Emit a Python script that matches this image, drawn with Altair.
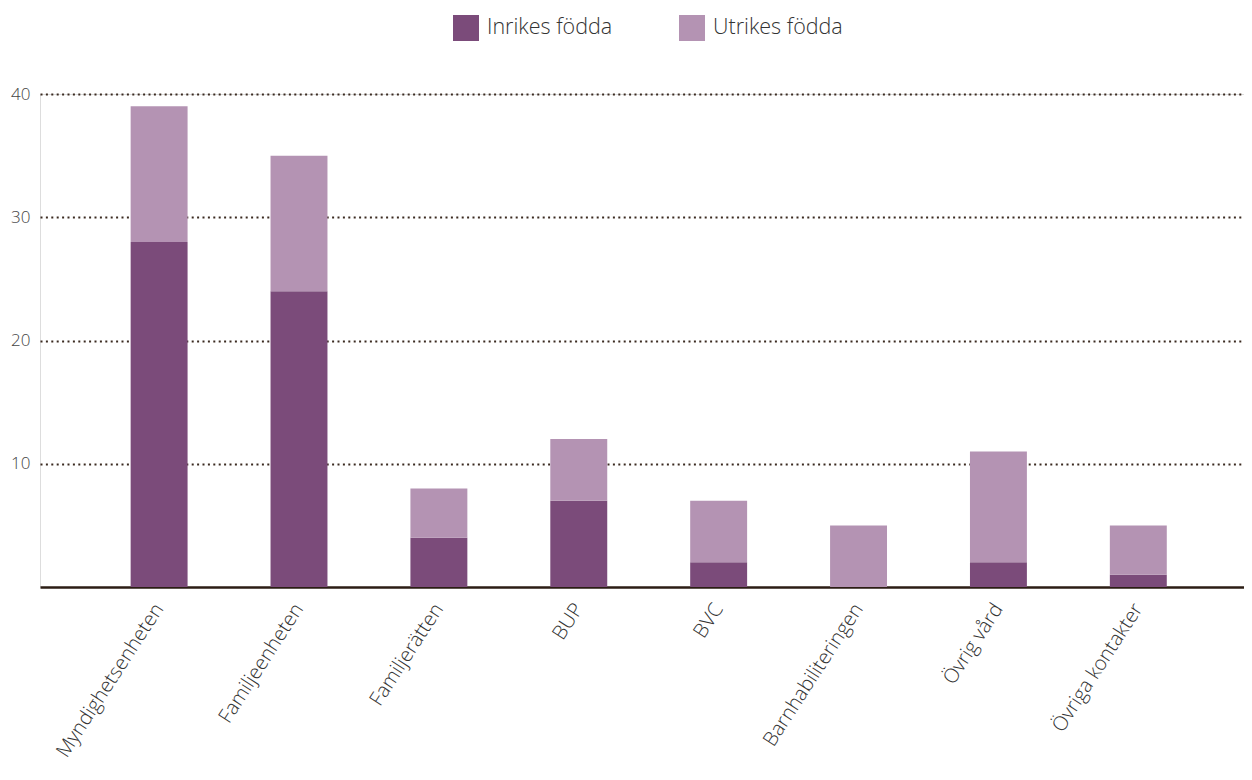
import altair as alt
import pandas as pd

categories = ["Myndighetsenheten", "Familjeenheten", "Familjerätten", "BUP", "BVC",
              "Barnhabiliteringen", "Övrig vård", "Övriga kontakter"]
inrikes = [28, 24, 4, 7, 2, 0, 2, 1]
utrikes = [11, 11, 4, 5, 5, 5, 9, 4]
series = ["Inrikes födda", "Utrikes födda"]
colors = ["#7B4B7A", "#B493B3"]

rows = []
for c, a, b in zip(categories, inrikes, utrikes):
    rows.append({"kategori": c, "grupp": series[0], "antal": a, "ord": 0})
    rows.append({"kategori": c, "grupp": series[1], "antal": b, "ord": 1})
df = pd.DataFrame(rows)

FONT = "Open Sans"

chart = alt.Chart(df).mark_bar().encode(
    x=alt.X("kategori:N", sort=categories,
            scale=alt.Scale(paddingInner=0.593, paddingOuter=0.6, align=0.54),
            axis=alt.Axis(title=None, labelAngle=-57, labelAlign="right",
                          labelBaseline="middle", labelPadding=18, ticks=False,
                          domain=True, domainColor="#2B1D14", domainWidth=2.5,
                          labelFont=FONT, labelFontSize=20, labelFontWeight=300,
                          labelColor="#333333", labelLimit=400)),
    y=alt.Y("antal:Q", stack="zero", scale=alt.Scale(domain=[0, 40], nice=False),
            axis=alt.Axis(title=None, values=[10, 20, 30, 40], ticks=False, domain=False,
                          grid=True, gridColor="#3A2A20", gridDash=[2, 3.4], gridWidth=2,
                          labelPadding=10, labelFont=FONT, labelFontSize=17,
                          labelFontWeight=300, labelColor="#444444")),
    color=alt.Color("grupp:N", sort=series,
                    scale=alt.Scale(domain=series, range=colors),
                    legend=alt.Legend(title=None, orient="none", direction="horizontal",
                                      legendX=413, legendY=-79,
                                      symbolType="square", symbolSize=676,
                                      symbolStrokeWidth=0, symbolOpacity=1,
                                      labelFont=FONT, labelFontSize=21.5, labelFontWeight=300,
                                      labelColor="#333333", labelOffset=8,
                                      columnPadding=66, labelLimit=400)),
    order=alt.Order("ord:Q", sort="ascending"),
).properties(
    width=1204, height=493,
    autosize=alt.AutoSizeParams(type="none"),
    padding={"left": 32, "top": 86, "right": 0, "bottom": 180},
).configure_view(stroke=None).configure(background="white")

chart.save("out.html", embed_options={"renderer": "svg", "actions": False})
